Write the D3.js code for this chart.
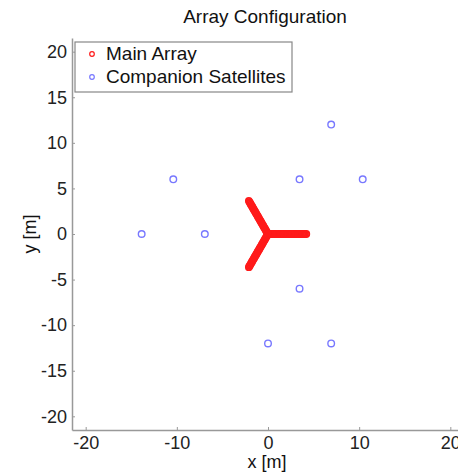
<!DOCTYPE html>
<html><head><meta charset="utf-8">
<script src="https://cdn.jsdelivr.net/npm/d3@7"></script>
<style>body{margin:0;background:#fff;}svg{display:block;font-family:"Liberation Sans",Arial,sans-serif;}</style>
</head><body>
<script>
// Companion satellites
const satX = [-13.86, -6.93, -10.39, 3.46, 6.93, 10.39, 3.46, 0, 6.93];
const satY = [0, 0, 6, 6, 12, 6, -6, -12, -12];
// Main array: three arms (angle in degrees) with elements along radius [m]
const armAngles = [0, 120, 240];
const armRadii = [0.15, 0.3, 0.45, 0.6, 0.75, 0.9, 1.05, 1.2, 1.35, 1.5, 1.65, 1.8, 1.95, 2.1, 2.25, 2.4, 2.55, 2.7, 2.85, 3.0, 3.15, 3.3, 3.45, 3.6, 3.75, 3.9, 4.05, 4.2];
const xTicks = [-20, -10, 0, 10, 20];
const yTicks = [-20, -15, -10, -5, 0, 5, 10, 15, 20];
const legendLabels = ["Main Array", "Companion Satellites"];
const colors = ["#ff1a1a", "#7878ff"];

const W = 458, H = 475;
const svg = d3.select("body").append("svg").attr("width", W).attr("height", H);
const x = d3.scaleLinear().domain([-21.5, 21.5]).range([72, 464]);
const y = d3.scaleLinear().domain([-21.5, 21.5]).range([430, 38]);

const axisCol = "#999";
const fmt = d => String(d);
const xAxis = svg.append("g").attr("transform", `translate(0,${y(-21.5)})`)
  .call(d3.axisBottom(x).tickValues(xTicks).tickFormat(fmt).tickSizeInner(-3).tickSizeOuter(0).tickPadding(6));
const yAxis = svg.append("g").attr("transform", `translate(${x(-21.5)},0)`)
  .call(d3.axisLeft(y).tickValues(yTicks).tickFormat(fmt).tickSizeInner(-3).tickSizeOuter(0).tickPadding(5));
[xAxis, yAxis].forEach(a => {
  a.select(".domain").attr("stroke", axisCol).attr("stroke-width", 1.5);
  a.selectAll(".tick line").attr("stroke", axisCol);
  a.selectAll(".tick text").attr("fill", "#222").style("font-size", "18px")
    .style("font-family", "'Liberation Sans', Arial, sans-serif");
});

// main array points
const mainPts = [];
armAngles.forEach(a => armRadii.forEach(r => {
  const t = a * Math.PI / 180;
  mainPts.push([r * Math.cos(t), r * Math.sin(t)]);
}));
svg.append("g").selectAll("circle").data(mainPts).join("circle")
  .attr("cx", d => x(d[0])).attr("cy", d => y(d[1])).attr("r", 3)
  .attr("fill", "none").attr("stroke", colors[0]).attr("stroke-width", 1.8);

svg.append("g").selectAll("circle").data(satX.map((v, i) => [v, satY[i]])).join("circle")
  .attr("cx", d => x(d[0])).attr("cy", d => y(d[1])).attr("r", 3.3)
  .attr("fill", "none").attr("stroke", colors[1]).attr("stroke-width", 1.4);

// title and labels
svg.append("text").attr("x", 265).attr("y", 23).attr("text-anchor", "middle")
  .style("font-size", "19px").attr("fill", "#111").text("Array Configuration");
svg.append("text").attr("x", 267).attr("y", 468).attr("text-anchor", "middle")
  .style("font-size", "18px").attr("fill", "#111").text("x [m]");
svg.append("text").attr("transform", `translate(36,${y(0)}) rotate(-90)`).attr("text-anchor", "middle")
  .style("font-size", "18px").attr("fill", "#111").text("y [m]");

// legend
const lg = svg.append("g");
lg.append("rect").attr("x", 75).attr("y", 42).attr("width", 217).attr("height", 50)
  .attr("fill", "#fff").attr("stroke", "#888").attr("stroke-width", 1.2);
legendLabels.forEach((t, i) => {
  lg.append("circle").attr("cx", 92).attr("cy", 54 + i * 23).attr("r", 2.3)
    .attr("fill", "none").attr("stroke", colors[i]).attr("stroke-width", 1.2);
  lg.append("text").attr("x", 106).attr("y", 60 + i * 23).style("font-size", "19px").attr("fill", "#111").text(t);
});
</script>
</body></html>
